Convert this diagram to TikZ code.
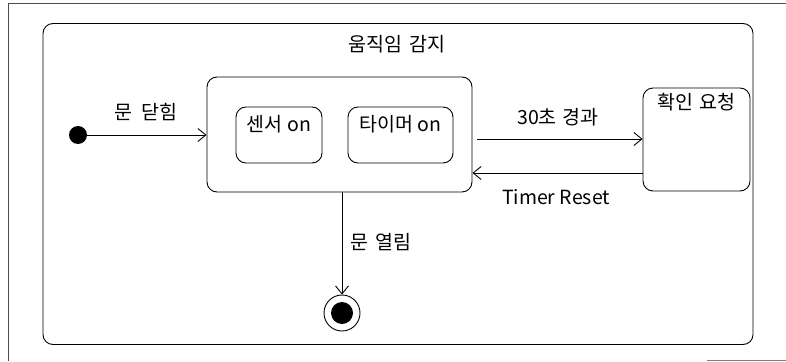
\documentclass[tikz,border=0pt]{standalone}
\usepackage{fontspec}
\setmainfont{Noto Sans CJK KR}
\usetikzlibrary{arrows.meta,calc}
\tikzset{
  statebox/.style={draw, line width=0.9pt, rounded corners=10pt, inner sep=0pt},
  arr/.style={draw, line width=0.9pt, -{Straight Barb[length=8pt,width=13pt,line width=0.9pt]}},
  lbl/.style={font=\fontsize{19.5}{22}\selectfont, inner sep=0pt},
  frameline/.style={line width=1pt, gray!60!black}
}
\begin{document}
\begin{tikzpicture}[x=1pt,y=-1pt]
\useasboundingbox (0,0) rectangle (786,361);
% outer scan frame
\coordinate (f1) at (8,361);
\coordinate (f2) at (8,4);
\coordinate (f3) at (786,4);
\coordinate (f4) at (707,360);
\coordinate (f5) at (786,360);
\draw[frameline] (f1) -- (f2) -- (f3);
\draw[line width=0.8pt, gray] (f4) -- (f5);
% big state
\node[statebox, minimum width=710pt, minimum height=321pt] (outer) at (398,184) {};
\node[lbl] (title) at (397,44) {움직임\hspace{0.35em}감지};
% composite state
\node[statebox, minimum width=265pt, minimum height=115pt] (comp) at (339.5,134.5) {};
\node[statebox, minimum width=86pt, minimum height=56pt] (sensor) at (279,135) {};
\node[lbl] (sensorlbl) at (279,124) {센서\hspace{0.25em}on};
\node[statebox, minimum width=105pt, minimum height=56pt] (timer) at (400.5,135) {};
\node[lbl] (timerlbl) at (400.5,124) {타이머\hspace{0.25em}on};
% confirm state
\node[statebox, minimum width=107pt, minimum height=103pt] (confirm) at (696.5,139.5) {};
\node[lbl] (confirmlbl) at (696.5,102) {확인\hspace{0.35em}요청};
% initial and final
\node[circle, fill=black, minimum size=18pt, inner sep=0pt] (init) at (78,135) {};
\node[circle, draw, line width=0.9pt, minimum size=36pt, inner sep=0pt] (final) at (342,313) {};
\node[circle, fill=black, minimum size=22pt, inner sep=0pt] (finalin) at (342,313) {};
% transitions
\draw[arr] (init) -- (init -| comp.west);
\node[lbl] (l1) at (146,112) {문\hspace{0.5em}닫힘};
\draw[arr] ($(comp.east)+(5,4.5)$) -- ($(confirm.west)+(0,-0.5)$);
\node[lbl] (l2) at (558,117) {30초\hspace{0.3em}경과};
\draw[arr] ($(confirm.west)+(0,33.5)$) -- ($(comp.east)+(0,38.5)$);
\node[lbl] (l3) at (556,197) {Timer Reset};
\draw[arr] (comp.south -| final) -- (final.north);
\node[lbl] (l4) at (381,242) {문\hspace{0.4em}열림};
\end{tikzpicture}
\end{document}
